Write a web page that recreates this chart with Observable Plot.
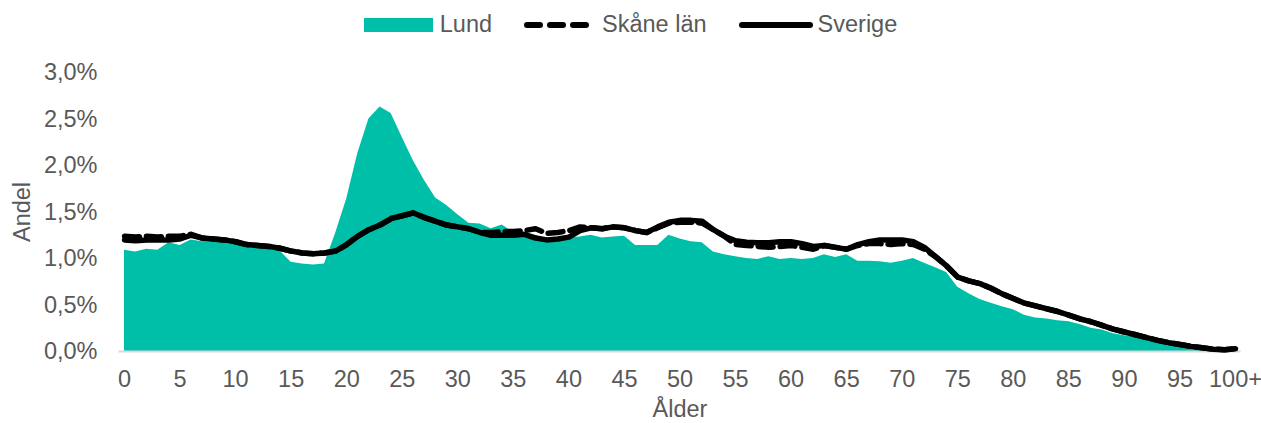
<!DOCTYPE html>
<html><head><meta charset="utf-8">
<script src="https://cdn.jsdelivr.net/npm/d3@7"></script>
<script src="https://cdn.jsdelivr.net/npm/@observablehq/plot@0.6"></script>
<style>
body{margin:0;background:#fff;font-family:Arial,"Liberation Sans",sans-serif;}
#legend{height:45px;display:flex;justify-content:center;align-items:center;font-size:23.5px;color:#595959;padding-top:4px;box-sizing:border-box;}
.item{display:flex;align-items:center;}
.sw{display:block;}
</style></head>
<body>
<div id="legend">
 <span class="item"><svg class="sw" width="69" height="14" style="margin-right:7px"><rect width="69" height="14" fill="#00BFA9"/></svg>Lund</span>
 <span class="item" style="margin-left:32px"><svg class="sw" width="66" height="14" style="margin-right:12px"><line x1="3" x2="63" y1="7" y2="7" stroke="#000" stroke-width="6" stroke-dasharray="13,10" stroke-linecap="round"/></svg>Skåne län</span>
 <span class="item" style="margin-left:32px"><svg class="sw" width="74" height="14" style="margin-right:5px"><line x1="3" x2="71" y1="7" y2="7" stroke="#000" stroke-width="6" stroke-linecap="round"/></svg>Sverige</span>
</div>
<div id="chart"></div>
<script>
const ages = d3.range(0, 101);
const lund = [1.09,1.07,1.10,1.09,1.17,1.14,1.20,1.18,1.20,1.18,
1.16,1.15,1.14,1.12,1.08,0.96,0.94,0.93,0.94,1.27,
1.64,2.13,2.50,2.63,2.56,2.30,2.05,1.84,1.65,1.57,
1.47,1.38,1.37,1.32,1.36,1.28,1.27,1.25,1.20,1.21,
1.22,1.23,1.25,1.22,1.23,1.24,1.14,1.14,1.14,1.25,
1.21,1.18,1.17,1.07,1.04,1.02,1.00,0.99,1.02,0.99,
1.00,0.99,1.00,1.04,1.01,1.04,0.97,0.97,0.965,0.95,
0.97,1.00,0.95,0.90,0.85,0.69,0.62,0.56,0.52,0.48,
0.45,0.39,0.36,0.35,0.33,0.32,0.29,0.25,0.23,0.19,
0.17,0.15,0.12,0.10,0.07,0.05,0.035,0.025,0.015,0.01,0.01];
const sverige = [1.20,1.19,1.20,1.20,1.20,1.21,1.25,1.22,1.21,1.20,
1.18,1.15,1.14,1.13,1.11,1.08,1.06,1.05,1.06,1.08,
1.15,1.24,1.31,1.36,1.43,1.46,1.49,1.44,1.40,1.36,
1.34,1.32,1.28,1.25,1.25,1.25,1.26,1.22,1.20,1.21,
1.23,1.30,1.33,1.32,1.34,1.33,1.30,1.28,1.34,1.39,
1.41,1.41,1.40,1.31,1.24,1.19,1.175,1.17,1.17,1.18,
1.18,1.16,1.13,1.14,1.12,1.10,1.15,1.18,1.20,1.20,
1.20,1.18,1.12,1.02,0.92,0.80,0.76,0.73,0.68,0.62,
0.57,0.52,0.49,0.46,0.43,0.39,0.35,0.32,0.28,0.24,
0.21,0.18,0.15,0.12,0.095,0.075,0.055,0.04,0.025,0.02,0.03];
const skane = [1.24,1.23,1.24,1.23,1.24,1.24,1.26,1.22,1.21,1.20,
1.18,1.15,1.14,1.13,1.11,1.08,1.06,1.05,1.06,1.08,
1.15,1.24,1.31,1.36,1.43,1.46,1.49,1.44,1.40,1.36,
1.34,1.32,1.28,1.28,1.29,1.29,1.30,1.32,1.27,1.28,
1.30,1.34,1.33,1.32,1.34,1.33,1.30,1.28,1.33,1.38,
1.39,1.39,1.38,1.31,1.24,1.15,1.14,1.13,1.12,1.13,
1.14,1.12,1.10,1.14,1.12,1.10,1.14,1.16,1.16,1.15,
1.16,1.15,1.10,1.02,0.92,0.80,0.76,0.73,0.68,0.62,
0.57,0.52,0.49,0.46,0.43,0.39,0.35,0.32,0.28,0.24,
0.21,0.18,0.15,0.12,0.095,0.075,0.055,0.04,0.025,0.02,0.03];
const xTicks = d3.range(0, 101, 5);
const yTicks = [0, 0.5, 1.0, 1.5, 2.0, 2.5, 3.0];

const data = ages.map((a, i) => ({age: a, lund: lund[i], skane: skane[i], sverige: sverige[i]}));
const fmtY = d => d.toFixed(1).replace(".", ",") + "%";
const fmtX = d => d === 100 ? "100+" : String(d);

const chart = Plot.plot({
  width: 1261,
  height: 378,
  marginTop: 27,
  marginBottom: 72,
  marginLeft: 124,
  marginRight: 26,
  style: {fontFamily: "Arial, 'Liberation Sans', sans-serif", fontSize: "23.5px", color: "#595959", background: "#fff"},
  x: {domain: [0, 100], ticks: xTicks, tickFormat: fmtX, tickSize: 0, tickPadding: 19, label: null},
  y: {domain: [0, 3], ticks: yTicks, tickFormat: fmtY, tickSize: 0, tickPadding: 27, label: null},
  marks: [
    Plot.areaY(data, {x: "age", y: "lund", fill: "#00BFA9"}),
    Plot.ruleY([0], {stroke: "#d9d9d9", strokeWidth: 2, x1: -0.5, x2: 100.5}),
    Plot.lineY(data, {x: "age", y: "skane", stroke: "#000", strokeWidth: 5.5, strokeDasharray: "15,7", strokeLinejoin: "round"}),
    Plot.lineY(data, {x: "age", y: "sverige", stroke: "#000", strokeWidth: 5.5, strokeLinejoin: "round", strokeLinecap: "round"}),
    Plot.axisX({ticks: xTicks, tickFormat: fmtX, tickSize: 0, tickPadding: 19, label: null, fill: "#595959", fontSize: 23.5}),
    Plot.axisY({ticks: yTicks, tickFormat: fmtY, tickSize: 0, tickPadding: 27, label: null, fill: "#595959", fontSize: 23.5}),
    Plot.text(["Ålder"], {frameAnchor: "bottom", lineAnchor: "middle", dy: 58, fontSize: 23.5, fill: "#595959"}),
    Plot.text(["Andel"], {frameAnchor: "left", textAnchor: "middle", lineAnchor: "middle", dx: -102, rotate: -90, fontSize: 23.5, fill: "#595959"})
  ]
});
document.getElementById("chart").appendChild(chart);
</script>
</body></html>
